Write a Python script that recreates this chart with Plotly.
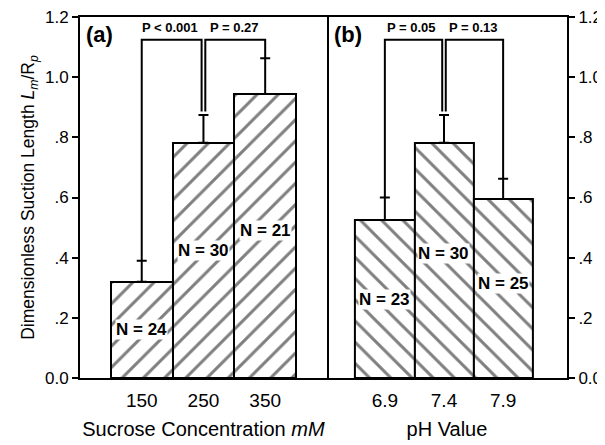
import plotly.graph_objects as go

# ---- data ----
conc_labels = ["150", "250", "350"]
suction_conc = [0.32, 0.782, 0.944]
sem_conc = [0.07, 0.092, 0.119]
n_conc = [24, 30, 21]
p_conc = ["P < 0.001", "P = 0.27"]

ph_labels = ["6.9", "7.4", "7.9"]
suction_ph = [0.525, 0.782, 0.595]
sem_ph = [0.075, 0.092, 0.067]
n_ph = [23, 30, 25]
p_ph = ["P = 0.05", "P = 0.13"]

ytick_vals = [0, 0.2, 0.4, 0.6, 0.8, 1.0, 1.2]
ytick_text = ["0.0", ".2", ".4", ".6", ".8", "1.0", "1.2"]

FONT = "Arial, 'Liberation Sans', sans-serif"

fig = go.Figure()

def add_panel(vals, sems, shape, xa, ya):
    xs = list(range(len(vals)))
    fig.add_trace(go.Bar(
        x=xs, y=vals, width=1.0,
        marker=dict(color="white", line=dict(color="black", width=2),
                    pattern=dict(shape=shape, fgcolor="black", bgcolor="white",
                                 size=15, solidity=0.2)),
        error_y=dict(type="data", array=sems, arrayminus=[0] * len(sems),
                     symmetric=False, color="black", thickness=2, width=5),
        xaxis=xa, yaxis=ya, showlegend=False,
    ))

add_panel(suction_conc, sem_conc, "/", "x", "y")
add_panel(suction_ph, sem_ph, "\\", "x2", "y2")

shapes = []
annotations = []
bracket_y = 1.124
d = 0.03

def brackets(vals, sems, pvals, xr, yr, dd, n_list, n_y):
    tops = [v + s for v, s in zip(vals, sems)]
    line = dict(color="black", width=2)
    path1 = f"M 0,{tops[0]} L 0,{bracket_y} L {1 - dd},{bracket_y} L {1 - dd},{tops[1] + 0.012}"
    path2 = f"M {1 + dd},{tops[1] + 0.012} L {1 + dd},{bracket_y} L 2,{bracket_y} L 2,{tops[2]}"
    for p in (path1, path2):
        shapes.append(dict(type="path", path=p, xref=xr, yref=yr, line=line))
    for i, t in enumerate(pvals):
        annotations.append(dict(x=0.5 + i - 0.05 * (1 - i), y=bracket_y + 0.008, xref=xr, yref=yr,
                                text=f"<b>{t}</b>", showarrow=False, yanchor="bottom",
                                font=dict(size=13, family=FONT, color="black")))
    for i, (n, yy) in enumerate(zip(n_list, n_y)):
        annotations.append(dict(x=i, y=yy, xref=xr, yref=yr, text=f"<b>N = {n}</b>",
                                showarrow=False, bgcolor="white", borderpad=0,
                                font=dict(size=17, family=FONT, color="black")))

brackets(suction_conc, sem_conc, p_conc, "x", "y", d, n_conc, [0.16, 0.425, 0.49])
brackets(suction_ph, sem_ph, p_ph, "x2", "y2", d, n_ph, [0.26, 0.415, 0.315])

annotations.append(dict(x=0.008, y=0.993, xref="paper", yref="paper", text="<b>(a)</b>",
                        showarrow=False, xanchor="left", yanchor="top",
                        font=dict(size=22, family=FONT, color="black")))
annotations.append(dict(x=0.518, y=0.993, xref="paper", yref="paper", text="<b>(b)</b>",
                        showarrow=False, xanchor="left", yanchor="top",
                        font=dict(size=22, family=FONT, color="black")))

axis_common = dict(showline=True, linecolor="black", linewidth=2,
                   showgrid=False, zeroline=False, automargin=False)
xtickfont = dict(size=19, family=FONT, color="black")
ytickfont = dict(size=17, family=FONT, color="black")
xtitlefont = dict(size=20, family=FONT, color="black")
ytitlefont = dict(size=17.5, family=FONT, color="black")

split = 0.507
fig.update_layout(
    width=605, height=445,
    margin=dict(l=72, r=46, t=9, b=75),
    plot_bgcolor="white", paper_bgcolor="white",
    bargap=0,
    shapes=shapes, annotations=annotations,
    xaxis=dict(domain=[0, split], range=[-1, 3], tickvals=[0, 1, 2], ticktext=conc_labels,
               ticks="", tickfont=xtickfont, ticklabelstandoff=4, anchor="y", mirror=True,
               title=dict(text="Sucrose Concentration <i>mM</i>", font=xtitlefont, standoff=12),
               **axis_common),
    xaxis2=dict(domain=[split, 1], range=[-0.98, 3.08], tickvals=[0, 1, 2], ticktext=ph_labels,
                ticks="", tickfont=xtickfont, ticklabelstandoff=4, anchor="y2", mirror=True,
                title=dict(text="pH Value", font=xtitlefont, standoff=12),
                **axis_common),
    yaxis=dict(range=[0, 1.2], tickvals=ytick_vals, ticktext=ytick_text, ticks="outside",
               ticklen=6, tickwidth=2, tickcolor="black", tickfont=ytickfont, anchor="x",
               mirror=True, ticklabeloverflow="allow",
               title=dict(text="Dimensionless Suction Length <i>L<sub>m</sub></i>/R<sub><i>p</i></sub>",
                          font=ytitlefont, standoff=6),
               **axis_common),
    yaxis2=dict(range=[0, 1.2], tickvals=ytick_vals, ticktext=ytick_text, ticks="outside",
                ticklen=6, tickwidth=2, tickcolor="black", tickfont=ytickfont, anchor="x2",
                side="right", mirror=False, ticklabeloverflow="allow", **axis_common),
)

fig.write_html("out.html")
